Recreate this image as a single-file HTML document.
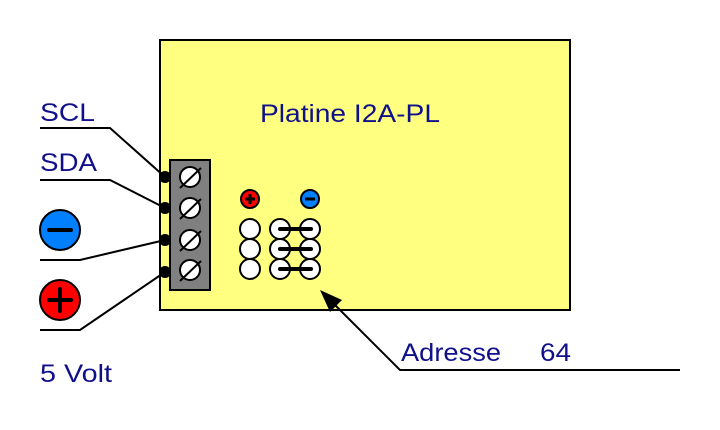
<!DOCTYPE html>
<html><head><style>body{margin:0;background:#fff}svg{display:block}text{font-family:"Liberation Sans",sans-serif;fill:#10108a;font-size:25px}</style></head>
<body>
<svg width="720" height="430" viewBox="0 0 720 430">
<rect x="160" y="40" width="410" height="270" fill="#ffff80" stroke="#000" stroke-width="2"/>
<text x="260" y="122" textLength="180" lengthAdjust="spacingAndGlyphs">Platine I2A-PL</text>
<rect x="170" y="160" width="40" height="130" fill="#808080" stroke="#000" stroke-width="2"/>
<g stroke="#000" stroke-width="2" fill="#fff">
<circle cx="190" cy="177" r="10"/><circle cx="190" cy="208" r="10"/><circle cx="190" cy="240" r="10"/><circle cx="190" cy="270" r="10"/>
<line x1="180" y1="188" x2="201" y2="168"/><line x1="180" y1="219" x2="201" y2="199"/><line x1="180" y1="251" x2="201" y2="231"/><line x1="180" y1="281" x2="201" y2="261"/>
</g>
<g fill="#000"><circle cx="165" cy="177" r="6"/><circle cx="165" cy="208" r="6"/><circle cx="165" cy="240" r="6"/><circle cx="165" cy="272" r="6"/></g>
<g stroke="#000" stroke-width="2" fill="none">
<polyline points="40,128 110,128 165,177"/>
<polyline points="40,180 110,180 165,208"/>
<polyline points="40,260 80,260 165,240"/>
<polyline points="40,330 80,330 165,272"/>
<polyline points="680,370 400,370 330,300"/>
</g>
<polygon points="320,290 342,300 330,312" fill="#000"/>
<text x="40" y="121" textLength="55" lengthAdjust="spacingAndGlyphs">SCL</text>
<text x="40" y="171" textLength="57" lengthAdjust="spacingAndGlyphs">SDA</text>
<text x="40" y="382" textLength="72" lengthAdjust="spacingAndGlyphs">5 Volt</text>
<text x="401" y="361" textLength="100" lengthAdjust="spacingAndGlyphs">Adresse</text>
<text x="540" y="361" textLength="31" lengthAdjust="spacingAndGlyphs">64</text>
<circle cx="60" cy="230" r="20" fill="#0080ff" stroke="#000" stroke-width="2"/>
<line x1="49" y1="230" x2="71" y2="230" stroke="#000" stroke-width="4" stroke-linecap="round"/>
<circle cx="60" cy="300" r="20" fill="#ff0000" stroke="#000" stroke-width="2"/>
<line x1="49" y1="300" x2="71" y2="300" stroke="#000" stroke-width="4" stroke-linecap="round"/>
<line x1="60" y1="289" x2="60" y2="311" stroke="#000" stroke-width="4" stroke-linecap="round"/>
<circle cx="250" cy="199" r="9" fill="#ff0000" stroke="#000" stroke-width="2"/>
<path d="M245 199h10M250 194v10" stroke="#000" stroke-width="3"/>
<circle cx="310" cy="199" r="9" fill="#0080ff" stroke="#000" stroke-width="2"/>
<path d="M305 199h10" stroke="#000" stroke-width="3"/>
<g stroke="#000" stroke-width="2" fill="#fff">
<circle cx="250" cy="229" r="10"/><circle cx="250" cy="249" r="10"/><circle cx="250" cy="269" r="10"/>
<circle cx="280" cy="229" r="10"/><circle cx="280" cy="249" r="10"/><circle cx="280" cy="269" r="10"/>
<circle cx="310" cy="229" r="10"/><circle cx="310" cy="249" r="10"/><circle cx="310" cy="269" r="10"/>
</g>
<g stroke="#000" stroke-width="4" stroke-linecap="round"><line x1="280" y1="229" x2="311" y2="229"/><line x1="280" y1="249" x2="311" y2="249"/><line x1="280" y1="269" x2="311" y2="269"/></g>
</svg>
</body></html>
